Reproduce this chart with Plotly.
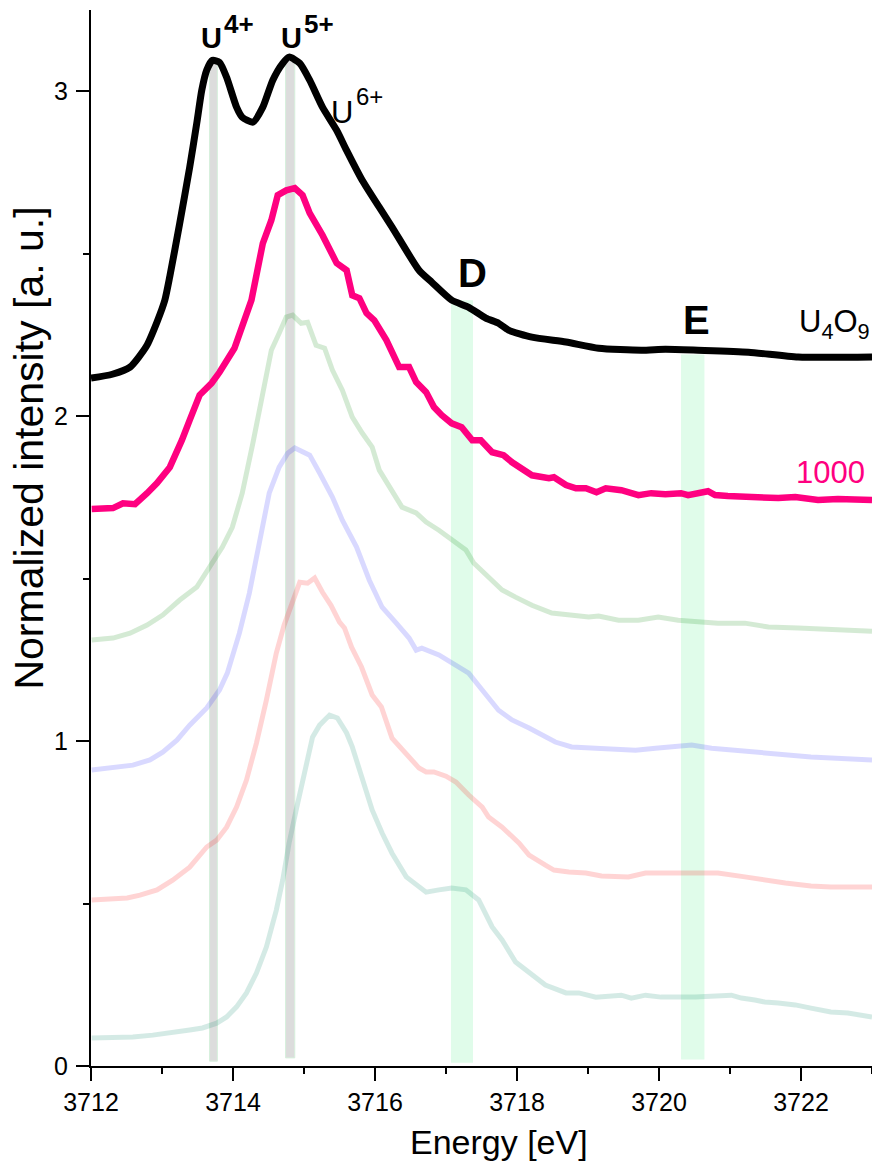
import plotly.graph_objects as go

# ---- U L3-edge HERFD-XANES spectra, vertically offset ----
energy_u4o9 = [3712.00, 3712.30, 3712.55, 3712.78, 3712.93, 3713.04, 3713.11, 3713.25, 3713.39,
               3713.49, 3713.56, 3713.63, 3713.71, 3713.81, 3713.91, 3714.05, 3714.13, 3714.28,
               3714.42, 3714.56, 3714.70, 3714.79, 3714.94, 3715.08, 3715.26, 3715.46, 3715.60,
               3715.82, 3716.06, 3716.24, 3716.62, 3716.80, 3717.08, 3717.32, 3717.56, 3717.74,
               3717.88, 3718.21, 3718.69, 3719.15, 3719.75, 3720.09, 3720.55, 3721.26, 3721.96,
               3723.00]
intensity_u4o9 = [2.117, 2.129, 2.151, 2.215, 2.290, 2.357, 2.430, 2.594, 2.766,
                  2.902, 3.003, 3.065, 3.095, 3.089, 3.043, 2.951, 2.920, 2.905,
                  2.951, 3.034, 3.086, 3.105, 3.086, 3.034, 2.951, 2.880, 2.818,
                  2.726, 2.643, 2.582, 2.449, 2.412, 2.357, 2.335, 2.302, 2.286,
                  2.265, 2.243, 2.228, 2.209, 2.203, 2.206, 2.203, 2.197, 2.182,
                  2.182]

energy_1000 = [3712.01, 3712.31, 3712.45, 3712.62, 3712.79, 3712.93, 3713.11, 3713.21, 3713.28,
               3713.39, 3713.53, 3713.70, 3713.81, 3714.02, 3714.13, 3714.26, 3714.42, 3714.54,
               3714.63, 3714.75, 3714.87, 3714.98, 3715.08, 3715.26, 3715.46, 3715.60, 3715.68,
               3715.78, 3715.88, 3715.99, 3716.16, 3716.34, 3716.48, 3716.58, 3716.72, 3716.83,
               3716.94, 3717.08, 3717.22, 3717.37, 3717.49, 3717.65, 3717.81, 3717.93, 3718.21,
               3718.45, 3718.52, 3718.69, 3718.83, 3718.97, 3719.12, 3719.25, 3719.47, 3719.71,
               3719.89, 3720.09, 3720.31, 3720.41, 3720.69, 3720.79, 3720.97, 3721.21, 3721.68,
               3721.92, 3722.24, 3722.52, 3723.00]
intensity_1000 = [1.714, 1.717, 1.732, 1.729, 1.763, 1.794, 1.843, 1.886, 1.926,
                  1.988, 2.065, 2.102, 2.135, 2.209, 2.274, 2.357, 2.532, 2.603,
                  2.680, 2.695, 2.702, 2.680, 2.625, 2.557, 2.471, 2.449, 2.372,
                  2.363, 2.317, 2.295, 2.234, 2.151, 2.151, 2.105, 2.074, 2.028,
                  2.003, 1.978, 1.966, 1.926, 1.926, 1.889, 1.880, 1.858, 1.818,
                  1.809, 1.812, 1.788, 1.778, 1.778, 1.766, 1.778, 1.772, 1.757,
                  1.763, 1.760, 1.763, 1.757, 1.769, 1.757, 1.754, 1.751, 1.748,
                  1.751, 1.742, 1.745, 1.742]

energy_green = [3712.01, 3712.31, 3712.55, 3712.79, 3713.01, 3713.25, 3713.49, 3713.67, 3713.85,
                3713.99, 3714.13, 3714.28, 3714.42, 3714.54, 3714.65, 3714.75, 3714.84, 3714.96,
                3715.05, 3715.17, 3715.29, 3715.40, 3715.54, 3715.68, 3715.82, 3715.96, 3716.06,
                3716.20, 3716.38, 3716.58, 3716.72, 3716.90, 3717.08, 3717.28, 3717.39, 3717.60,
                3717.79, 3717.98, 3718.21, 3718.49, 3718.73, 3719.01, 3719.15, 3719.43, 3719.71,
                3719.99, 3720.27, 3720.55, 3720.83, 3721.21, 3721.54, 3721.96, 3722.52, 3723.00]
intensity_green = [1.311, 1.317, 1.332, 1.357, 1.388, 1.434, 1.474, 1.535, 1.597,
                   1.658, 1.763, 1.917, 2.080, 2.203, 2.255, 2.305, 2.311, 2.286,
                   2.289, 2.218, 2.209, 2.142, 2.080, 1.997, 1.948, 1.905, 1.834,
                   1.782, 1.720, 1.702, 1.674, 1.649, 1.618, 1.588, 1.548, 1.502,
                   1.465, 1.443, 1.418, 1.394, 1.388, 1.382, 1.385, 1.372, 1.372,
                   1.382, 1.372, 1.366, 1.363, 1.363, 1.351, 1.348, 1.342, 1.338]

energy_blue = [3712.01, 3712.31, 3712.59, 3712.83, 3713.01, 3713.21, 3713.39, 3713.63, 3713.81,
               3713.92, 3714.09, 3714.23, 3714.37, 3714.51, 3714.65, 3714.77, 3714.87, 3715.08,
               3715.22, 3715.40, 3715.54, 3715.74, 3715.92, 3716.10, 3716.30, 3716.48, 3716.58,
               3716.66, 3716.90, 3717.08, 3717.32, 3717.51, 3717.74, 3717.93, 3718.17, 3718.54,
               3718.77, 3719.11, 3719.67, 3719.95, 3720.27, 3720.46, 3720.74, 3721.02, 3721.30,
               3721.68, 3722.14, 3723.00]
intensity_blue = [0.911, 0.917, 0.926, 0.942, 0.966, 1.003, 1.049, 1.102, 1.157,
                  1.209, 1.332, 1.455, 1.618, 1.763, 1.843, 1.886, 1.902, 1.880,
                  1.825, 1.751, 1.680, 1.597, 1.495, 1.412, 1.363, 1.317, 1.280,
                  1.286, 1.265, 1.240, 1.209, 1.157, 1.095, 1.065, 1.040, 0.997,
                  0.982, 0.978, 0.972, 0.978, 0.985, 0.988, 0.978, 0.972, 0.966,
                  0.957, 0.951, 0.942]

energy_red = [3712.01, 3712.27, 3712.51, 3712.69, 3712.93, 3713.15, 3713.39, 3713.63, 3713.77,
              3713.91, 3714.05, 3714.19, 3714.33, 3714.47, 3714.61, 3714.72, 3714.84, 3714.94,
              3715.05, 3715.15, 3715.26, 3715.38, 3715.50, 3715.57, 3715.67, 3715.81, 3715.96,
              3716.09, 3716.24, 3716.44, 3716.62, 3716.72, 3716.83, 3717.00, 3717.14, 3717.32,
              3717.51, 3717.60, 3717.79, 3718.03, 3718.17, 3718.40, 3718.52, 3718.73, 3718.97,
              3719.19, 3719.57, 3719.81, 3720.03, 3720.37, 3720.55, 3720.83, 3721.21, 3721.49,
              3721.78, 3722.14, 3722.42, 3723.00]
intensity_red = [0.511, 0.514, 0.517, 0.526, 0.542, 0.572, 0.612, 0.674, 0.695,
                 0.735, 0.797, 0.880, 0.994, 1.126, 1.271, 1.357, 1.434, 1.489,
                 1.486, 1.502, 1.458, 1.418, 1.366, 1.348, 1.289, 1.228, 1.142,
                 1.105, 1.009, 0.963, 0.917, 0.905, 0.905, 0.892, 0.874, 0.834,
                 0.797, 0.766, 0.735, 0.686, 0.649, 0.618, 0.603, 0.597, 0.594,
                 0.585, 0.582, 0.594, 0.594, 0.594, 0.597, 0.594, 0.582, 0.572,
                 0.563, 0.554, 0.551, 0.551]

energy_teal = [3712.01, 3712.31, 3712.59, 3712.87, 3713.15, 3713.39, 3713.57, 3713.77, 3713.91,
               3714.05, 3714.19, 3714.33, 3714.47, 3714.61, 3714.70, 3714.79, 3714.89, 3715.03,
               3715.12, 3715.22, 3715.36, 3715.47, 3715.60, 3715.68, 3715.82, 3715.96, 3716.10,
               3716.24, 3716.44, 3716.58, 3716.72, 3716.90, 3717.08, 3717.28, 3717.46, 3717.65,
               3717.79, 3717.98, 3718.17, 3718.40, 3718.69, 3718.87, 3719.11, 3719.47, 3719.61,
               3719.81, 3720.03, 3720.51, 3721.02, 3721.16, 3721.35, 3721.49, 3721.68, 3721.92,
               3722.14, 3722.42, 3722.66, 3723.00]
intensity_teal = [0.086, 0.086, 0.089, 0.095, 0.102, 0.111, 0.117, 0.132, 0.151,
                  0.182, 0.225, 0.286, 0.366, 0.480, 0.572, 0.686, 0.788, 0.920,
                  1.012, 1.049, 1.080, 1.071, 1.025, 0.982, 0.889, 0.788, 0.717,
                  0.655, 0.582, 0.557, 0.535, 0.542, 0.548, 0.542, 0.511, 0.428,
                  0.388, 0.320, 0.286, 0.249, 0.225, 0.225, 0.212, 0.218, 0.209,
                  0.218, 0.212, 0.212, 0.218, 0.209, 0.203, 0.197, 0.194, 0.188,
                  0.178, 0.166, 0.163, 0.151]

# ---- marker bands: [E_low, E_high, I_low, I_high] ----
band_u4 = [3713.67, 3713.78, 0.015, 3.095]
band_u5 = [3714.74, 3714.87, 0.025, 3.100]
band_d = [3717.07, 3717.38, 0.010, 2.357]
band_e = [3720.31, 3720.64, 0.020, 2.190]

x_ticks = [3712, 3714, 3716, 3718, 3720, 3722]
y_ticks = [0, 1, 2, 3]

FONT = "Liberation Sans, Arial, sans-serif"

fig = go.Figure()

series = [
    (energy_teal, intensity_teal, "rgba(0,128,100,0.17)", 5),
    (energy_red, intensity_red, "rgba(255,0,0,0.17)", 5),
    (energy_blue, intensity_blue, "rgba(0,0,255,0.15)", 5),
    (energy_green, intensity_green, "rgba(0,128,0,0.17)", 5),
    (energy_1000, intensity_1000, "#ff0080", 6.5),
]
for ex, iy, col, w in series:
    fig.add_trace(go.Scatter(x=ex, y=iy, mode="lines",
                             line=dict(color=col, width=w), hoverinfo="skip"))
fig.add_trace(go.Scatter(x=energy_u4o9, y=intensity_u4o9, mode="lines",
                         line=dict(color="black", width=7, shape="spline", smoothing=0.6),
                         hoverinfo="skip"))

for b in (band_u4, band_u5):
    fig.add_shape(type="rect", x0=b[0], x1=b[1], y0=b[2], y1=b[3], layer="below",
                  fillcolor="rgb(220,220,220)", line=dict(color="rgb(214,240,220)", width=1))
for b in (band_d, band_e):
    fig.add_shape(type="rect", x0=b[0], x1=b[1], y0=b[2], y1=b[3], layer="below",
                  fillcolor="rgb(224,252,234)", line=dict(width=0))

def label(x, y, text, size, color="black", bold=False, **kw):
    if bold:
        text = f"<b>{text}</b>"
    fig.add_annotation(x=x, y=y, text=text, showarrow=False,
                       font=dict(family=FONT, size=size, color=color), **kw)

# oxidation-state labels
label(3713.70, 3.163, "U", 29, bold=True)
label(3714.08, 3.208, "4+", 26, bold=True)
label(3714.82, 3.163, "U", 29, bold=True)
label(3715.21, 3.208, "5+", 26, bold=True)
label(3715.54, 2.935, "U", 31)
label(3715.92, 2.985, "6+", 24)
label(3717.38, 2.440, "D", 40, bold=True)
label(3720.53, 2.295, "E", 40, bold=True)

# sample labels
fig.add_annotation(x=1.0, xref="paper", y=2.285, text="U<sub>4</sub>O<sub>9</sub>",
                   showarrow=False, xanchor="right",
                   font=dict(family=FONT, size=31, color="black"))
fig.add_annotation(x=0.993, xref="paper", y=1.828, text="1000", showarrow=False,
                   xanchor="right", font=dict(family=FONT, size=31, color="#ff0080"))

# axis titles
fig.add_annotation(x=0.522, xref="paper", y=-0.072, yref="paper", text="Energy [eV]",
                   showarrow=False, yanchor="middle",
                   font=dict(family=FONT, size=34, color="black"))
fig.add_annotation(x=-0.079, xref="paper", y=0.585, yref="paper",
                   text="Normalized intensity [a. u.]", textangle=-90,
                   showarrow=False, xanchor="center",
                   font=dict(family=FONT, size=41, color="black"))

axis_common = dict(showgrid=False, zeroline=False, showline=True, linecolor="black",
                   linewidth=2, ticks="outside", ticklen=13, tickwidth=2,
                   tickcolor="black", tickfont=dict(family=FONT, size=25, color="black"))

fig.update_xaxes(range=[3712, 3723], tickvals=x_ticks, ticktext=[str(v) for v in x_ticks],
                 minor=dict(dtick=1, tick0=3712, ticks="outside", ticklen=6, tickwidth=2,
                            tickcolor="black"),
                 **axis_common)
fig.update_yaxes(range=[0, 3.25], tickvals=y_ticks, ticktext=[str(v) for v in y_ticks],
                 ticklabelstandoff=3,
                 minor=dict(dtick=0.5, tick0=0, ticks="outside", ticklen=6, tickwidth=2,
                            tickcolor="black"),
                 **axis_common)

fig.update_layout(width=872, height=1163, showlegend=False,
                  margin=dict(l=91, r=0, t=10, b=97),
                  paper_bgcolor="white", plot_bgcolor="white")

fig.write_html("out.html")
